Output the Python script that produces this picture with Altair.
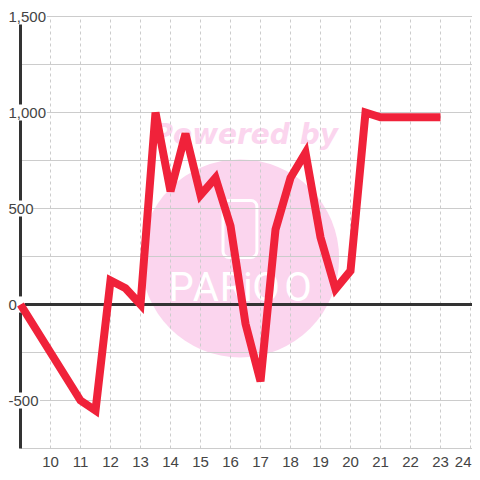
import altair as alt
import pandas as pd

xs = [9, 11, 11.5, 12, 12.5, 13, 13.5, 14, 14.5, 15, 15.5, 16, 16.5, 17, 17.5, 18, 18.5, 19, 19.5, 20, 20.5, 21, 22, 23]
ys = [0, -500, -552, 125, 85, 0, 1000, 590, 890, 570, 660, 410, -100, -400, 390, 660, 790, 350, 80, 175, 1000, 975, 975, 975]
x_ticks = list(range(10, 25))
x_tick_labels = [str(v) for v in x_ticks]
y_grid = [-750, -500, -250, 250, 500, 750, 1000, 1250, 1500]
y_labels = ["1,500", "1,000", "500", "0", "-500"]
y_values = [1500, 1000, 500, 0, -500]
label_x = [8.6, 8.6, 8.6, 8.6, 8.6]
box_end = [9.88, 9.88, 9.42, 9.14, 9.65]
XMIN, XMAX = 9, 24
XEND = 24.07
YMIN, YMAX = -750, 1500
PINK = "#fbd5ee"
RED = "#f0223a"
DARK = "#333333"
FONT = "Liberation Sans"

xs_scale = alt.Scale(domain=[XMIN, XMAX], nice=False, zero=False)
ys_scale = alt.Scale(domain=[YMIN, YMAX], nice=False, zero=False)
X = lambda f="x": alt.X(f"{f}:Q", scale=xs_scale, axis=None)
Y = lambda f="y": alt.Y(f"{f}:Q", scale=ys_scale, axis=None)

circle = alt.Chart(pd.DataFrame({"x": [16.32], "y": [240]})).mark_point(
    filled=True, color=PINK, opacity=1, size=39204, shape="circle"
).encode(x=X(), y=Y())

powered = alt.Chart(pd.DataFrame({"x": [16.49], "y": [878], "t": ["Powered by"]})).mark_text(
    font="DejaVu Sans", fontSize=28, fontWeight="bold", fontStyle="italic", color=PINK, align="center", baseline="middle"
).encode(x=X(), y=Y(), text="t:N")

logo = alt.Chart(pd.DataFrame({"x": [15.75], "x2": [16.88], "y": [245], "y2": [542]})).mark_rect(
    fill=None, stroke="white", strokeWidth=3, cornerRadius=6
).encode(x=X(), x2="x2:Q", y=Y(), y2="y2:Q")

letters = alt.Chart(pd.DataFrame({
    "x": [14.35, 15.18, 16.05, 16.58, 17.18, 18.25],
    "y": [80] * 6,
    "t": ["P", "A", "R", "i", "O", "O"],
})).mark_text(font="Liberation Sans Narrow, Roboto", fontSize=40, fontWeight=400, color="white", align="center", baseline="middle").encode(x=X(), y=Y(), text="t:N")

hgrid = alt.Chart(pd.DataFrame({"y": y_grid, "x": [XMIN] * len(y_grid), "x2": [XEND] * len(y_grid)})).mark_rule(
    color="#cccccc", strokeWidth=1
).encode(x=X(), x2="x2:Q", y=Y())

vgrid = alt.Chart(pd.DataFrame({"x": x_ticks, "y": [YMIN] * len(x_ticks), "y2": [YMAX] * len(x_ticks)})).mark_rule(
    color="#cccccc", strokeWidth=1, strokeDash=[3, 3]
).encode(x=X(), y=Y(), y2="y2:Q")

tick_df = pd.DataFrame({"x": x_ticks, "y": [YMIN] * len(x_ticks), "t": x_tick_labels})
tick_text = alt.Chart(tick_df[:-1]).mark_text(
    font=FONT, fontSize=15, color="#444444", align="center", baseline="middle", dy=13
).encode(x=X(), y=Y(), text="t:N")
tick_last = alt.Chart(tick_df[-1:]).mark_text(
    font=FONT, fontSize=15, color="#444444", align="right", baseline="middle", dy=13, dx=1
).encode(x=X(), y=Y(), text="t:N")

zero_line = alt.Chart(pd.DataFrame({"y": [0], "x": [XMIN], "x2": [XEND]})).mark_rule(
    color=DARK, strokeWidth=3
).encode(x=X(), x2="x2:Q", y=Y())

y_axis_line = alt.Chart(pd.DataFrame({"x": [XMIN], "y": [YMIN], "y2": [YMAX]})).mark_rule(
    color=DARK, strokeWidth=3
).encode(x=X(), y=Y(), y2="y2:Q")

label_df = pd.DataFrame({"x": label_x, "xb": [8.3] * 5, "xe": box_end, "y": y_values,
                         "yb": [v - 42 for v in y_values], "ye": [v + 42 for v in y_values], "t": y_labels})
boxes = alt.Chart(label_df).mark_rect(fill="white").encode(x=X("xb"), x2="xe:Q", y=Y("yb"), y2="ye:Q")
labels = alt.Chart(label_df).mark_text(
    font=FONT, fontSize=15, color="#444444", align="left", baseline="middle"
).encode(x=X(), y=Y(), text="t:N")

line = alt.Chart(pd.DataFrame({"x": xs, "y": ys})).mark_line(
    color=RED, strokeWidth=8, strokeJoin="miter", strokeCap="butt", clip=False
).encode(x=X(), y=Y())

chart = alt.layer(circle, powered, logo, letters, hgrid, vgrid, tick_text, tick_last, zero_line, y_axis_line, boxes, labels, line).properties(
    width=450, height=432,
    padding={"left": 12.5, "top": 8.5, "right": 1.5, "bottom": 19.5},
    autosize=alt.AutoSizeParams(type="none"),
    background="white",
).configure_view(stroke=None)

chart.save("out.html", embed_options={"renderer": "svg", "actions": False})
